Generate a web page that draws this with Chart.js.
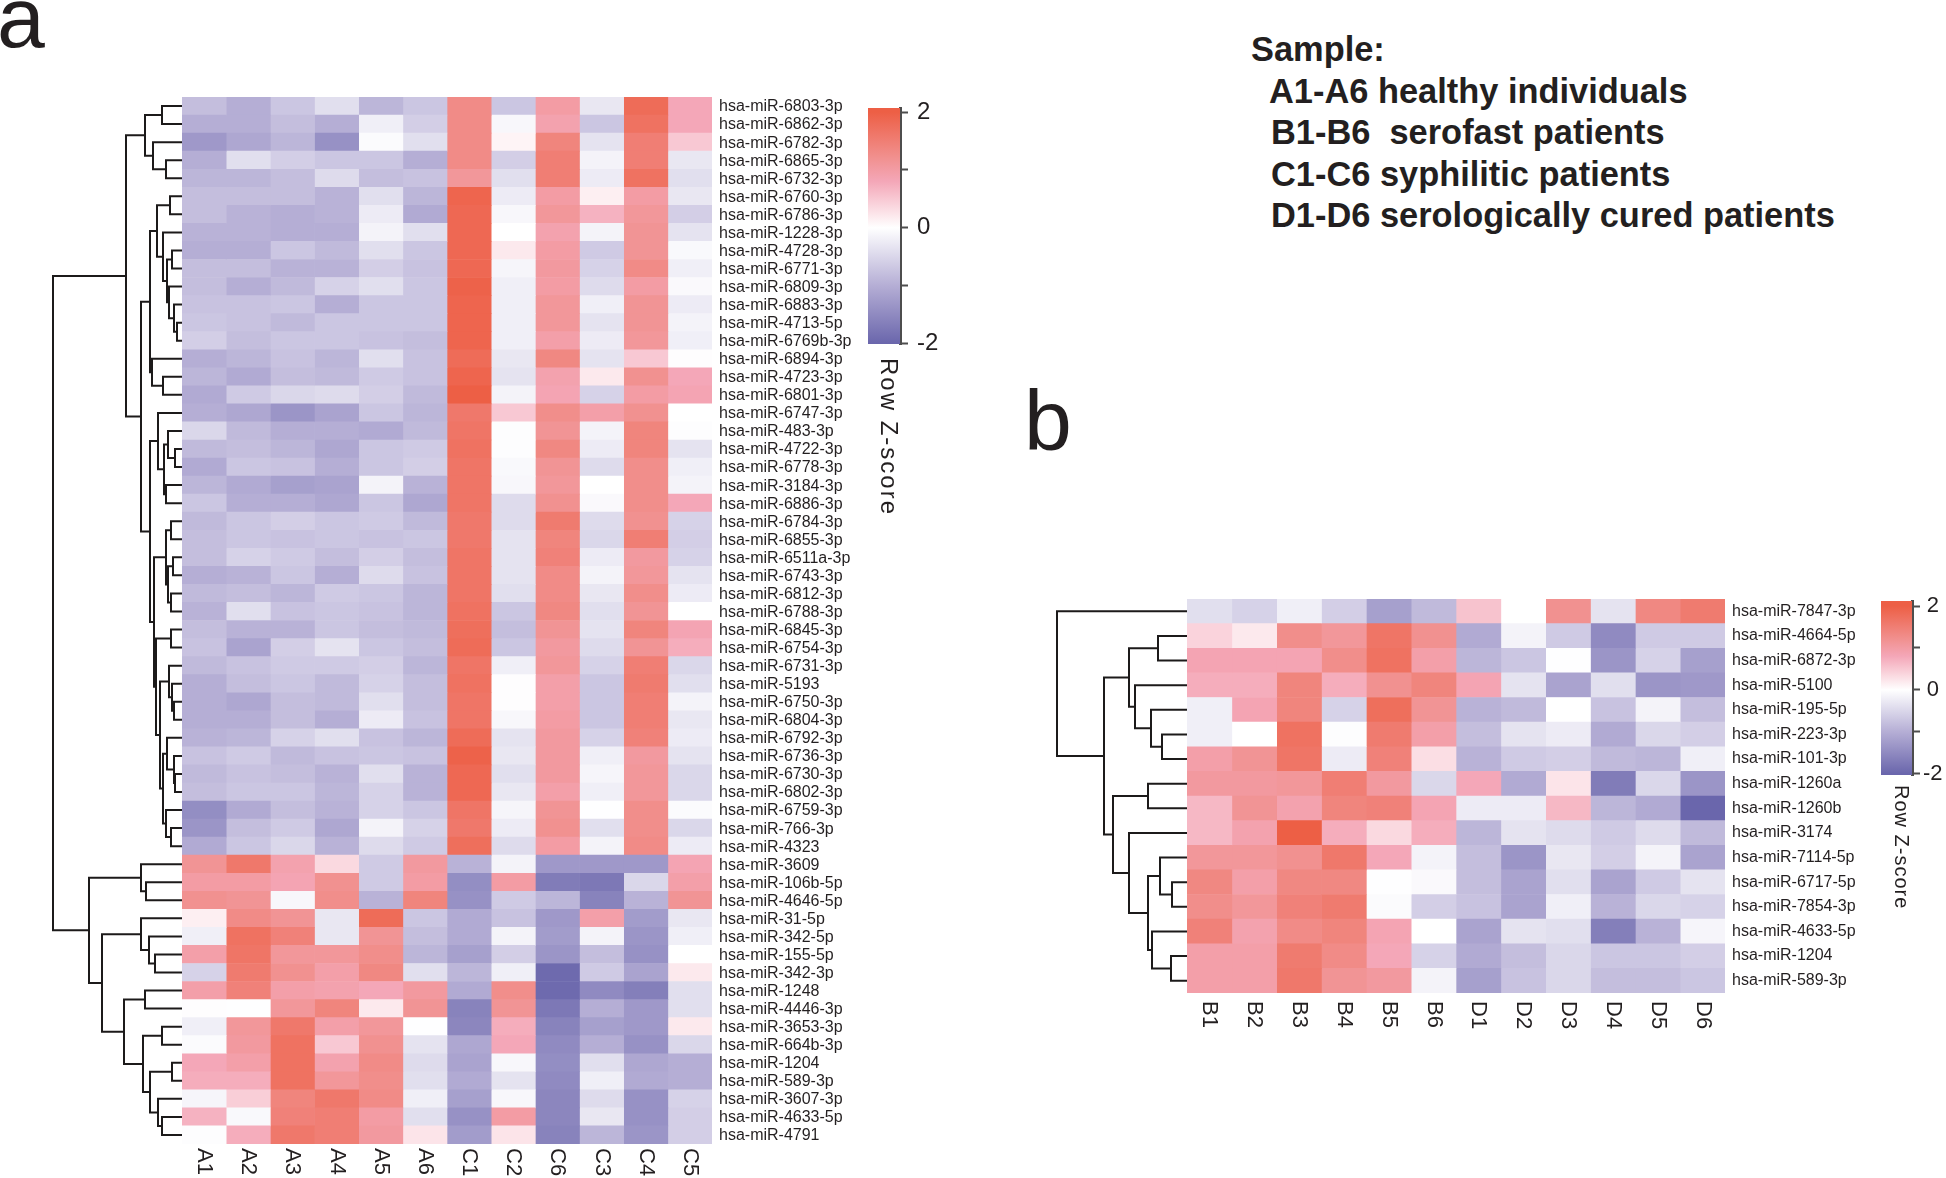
<!DOCTYPE html>
<html>
<head>
<meta charset="utf-8">
<title>Row Z-score heatmaps</title>
<script src="https://cdn.jsdelivr.net/npm/chart.js@4"></script>
<style>
  html, body { margin: 0; background: #fff; }
  #page { position: relative; width: 1946px; height: 1178px; overflow: hidden; font-family: "Liberation Sans", Arial, sans-serif; color: #231f20; }
  #page canvas { position: absolute; }
  .letter { position: absolute; font-size: 86px; line-height: 100px; }
  .note { position: absolute; top: 29px; left: 1251px; font-size: 34.4px; font-weight: bold; line-height: 41.5px; white-space: pre; }
  .note div { padding-left: 20px; }
  .note div:first-child { padding-left: 0; }
</style>
</head>
<body>
<div id="page">
  <div class="letter" style="left:-3px;top:-33px">a</div>
  <div class="letter" style="left:1024px;top:370px">b</div>
  <div class="note"><div>Sample:</div><div style="padding-left:18px">A1-A6 healthy individuals</div><div>B1-B6  serofast patients</div><div>C1-C6 syphilitic patients</div><div>D1-D6 serologically cured patients</div></div>
</div>
<script>
const colsA = ['A1', 'A2', 'A3', 'A4', 'A5', 'A6', 'C1', 'C2', 'C6', 'C3', 'C4', 'C5'];
const rowsA = ['6803-3p', '6862-3p', '6782-3p', '6865-3p', '6732-3p', '6760-3p', '6786-3p', '1228-3p', '4728-3p', '6771-3p',
  '6809-3p', '6883-3p', '4713-5p', '6769b-3p', '6894-3p', '4723-3p', '6801-3p', '6747-3p', '483-3p', '4722-3p',
  '6778-3p', '3184-3p', '6886-3p', '6784-3p', '6855-3p', '6511a-3p', '6743-3p', '6812-3p', '6788-3p', '6845-3p',
  '6754-3p', '6731-3p', '5193', '6750-3p', '6804-3p', '6792-3p', '6736-3p', '6730-3p', '6802-3p', '6759-3p',
  '766-3p', '4323', '3609', '106b-5p', '4646-5p', '31-5p', '342-5p', '155-5p', '342-3p', '1248',
  '4446-3p', '3653-3p', '664b-3p', '1204', '589-3p', '3607-3p', '4633-5p', '4791'].map(r => 'hsa-miR-' + r);

// z-scores, one line per row
const valuesA = [
  [-.8, -1, -.7, -.4, -.9, -.7, 1.3, -.7, 1, -.3, 1.8, .8],
  [-1, -1, -.8, -1, -.2, -.6, 1.3, -.1, .9, -.7, 1.7, .8],
  [-1.3, -1.1, -.9, -1.4, -.05, -.4, 1.3, .1, 1.4, -.35, 1.5, .5],
  [-1, -.4, -.6, -.7, -.7, -1, 1.3, -.6, 1.5, -.15, 1.5, -.3],
  [-.9, -.9, -.8, -.45, -.8, -.75, 1.1, -.4, 1.5, -.25, 1.7, -.4],
  [-.8, -.8, -.8, -.95, -.4, -.9, 1.9, -.25, 1, .15, 1, -.3],
  [-.8, -.95, -1, -.95, -.25, -1.05, 1.85, -.1, 1.1, .7, 1.1, -.6],
  [-.95, -.95, -1, -1, -.15, -.4, 1.85, 0, .9, -.15, 1.15, -.35],
  [-1, -1, -.7, -.85, -.4, -.7, 1.85, .2, 1, -.65, 1.15, -.08],
  [-.8, -.8, -.95, -.95, -.6, -.75, 1.85, -.12, 1.05, -.55, 1.3, -.2],
  [-.8, -1, -.85, -.55, -.4, -.7, 1.95, -.2, 1, -.45, 1, -.07],
  [-.75, -.75, -.7, -1, -.7, -.7, 1.9, -.2, 1.1, -.2, 1.15, -.25],
  [-.7, -.75, -.85, -.7, -.7, -.7, 1.9, -.2, 1.1, -.35, 1.15, -.15],
  [-.6, -.8, -.7, -.7, -.75, -.8, 1.9, -.2, .95, -.25, 1.1, -.2],
  [-1, -.9, -.75, -.9, -.4, -.75, 1.8, -.3, 1.35, -.35, .5, -.02],
  [-.9, -1.05, -.8, -.85, -.65, -.75, 1.9, -.35, .9, .2, 1.2, .8],
  [-1.05, -.65, -.5, -.45, -.6, -.85, 2, -.15, .85, -.55, 1, .85],
  [-1, -1.1, -1.35, -1.15, -.7, -.9, 1.6, .5, 1.25, .95, 1.2, 0],
  [-.5, -.85, -1, -1, -1.05, -.85, 1.65, -.03, 1.15, -.15, 1.4, -.03],
  [-.85, -.8, -.9, -1.1, -.7, -.65, 1.7, -.03, 1.35, -.25, 1.4, -.35],
  [-1.05, -.7, -.75, -1, -.7, -.6, 1.65, -.08, 1.15, -.45, 1.25, -.2],
  [-.9, -1.05, -1.2, -1.15, -.15, -.95, 1.65, -.1, 1.1, 0, 1.25, -.15],
  [-.7, -1, -1, -1.1, -.7, -1.1, 1.65, -.45, 1.2, -.07, 1.25, .8],
  [-.85, -.7, -.6, -.7, -.65, -.85, 1.6, -.45, 1.55, -.45, 1.2, -.55],
  [-.8, -.7, -.75, -.7, -.75, -.7, 1.6, -.35, 1.4, -.5, 1.5, -.6],
  [-.8, -.55, -.65, -.8, -.6, -.8, 1.65, -.35, 1.45, -.25, 1.05, -.55],
  [-1, -.95, -.7, -1, -.45, -.75, 1.65, -.35, 1.3, -.15, 1.1, -.35],
  [-.85, -.8, -.9, -.65, -.7, -.9, 1.65, -.4, 1.3, -.3, 1.25, -.25],
  [-.95, -.4, -.75, -.7, -.75, -.9, 1.7, -.7, 1.35, -.4, 1.15, 0],
  [-.8, -.95, -.95, -.7, -.8, -.85, 1.75, -.8, 1.15, -.35, 1.4, .85],
  [-.75, -1.15, -.6, -.35, -.7, -.8, 1.8, -.7, 1.05, -.45, 1.15, .75],
  [-.85, -.75, -.65, -.65, -.6, -.9, 1.65, -.2, 1.1, -.55, 1.5, -.5],
  [-1, -.8, -.7, -.85, -.55, -.8, 1.7, -.02, .95, -.7, 1.55, -.4],
  [-1, -1.1, -.8, -.85, -.4, -.8, 1.65, -.02, .95, -.7, 1.5, -.15],
  [-1, -1, -.8, -1, -.25, -.75, 1.65, -.1, 1, -.7, 1.5, -.3],
  [-.95, -.9, -.55, -.4, -.75, -.9, 1.8, -.35, 1.05, -.55, 1.45, -.25],
  [-.75, -.65, -.85, -.75, -.7, -.75, 1.95, -.3, 1.05, -.2, 1.05, -.35],
  [-.85, -.75, -.8, -.95, -.4, -.95, 1.85, -.4, 1.05, -.12, 1.1, -.5],
  [-.8, -.7, -.7, -.9, -.55, -.95, 1.85, -.3, .95, -.2, 1.1, -.5],
  [-1.45, -1.05, -.8, -.95, -.55, -.7, 1.65, -.12, 1.15, -.01, 1.25, -.05],
  [-1.35, -.8, -.65, -1.1, -.15, -.55, 1.6, -.25, 1.2, -.4, 1.25, -.5],
  [-1.05, -.7, -.5, -.95, -.45, -.65, 1.75, -.45, 1, -.15, 1.3, -.25],
  [1.15, 1.6, .9, .35, -.65, 1.05, -.95, -.15, -1.3, -1.3, -1.3, .85],
  [1, 1, .85, 1.2, -.65, 1, -1.45, 1, -1.7, -1.75, -.5, .95],
  [1.2, 1.15, -.1, 1.25, -.95, 1.4, -1.4, -.65, -.9, -1.6, -.95, 1.15],
  [.15, 1.3, 1.15, -.3, 1.8, -.7, -1.05, -.75, -1.3, .95, -1.25, -.3],
  [-.2, 1.7, 1.45, -.3, 1.15, -.8, -1.05, -.15, -1.25, -.15, -1.35, -.2],
  [.95, 1.65, 1.1, 1.1, 1.25, -.9, -1.2, -.6, -1.35, -.8, -1.4, 0],
  [-.55, 1.55, 1.2, .95, 1.35, -.4, -.9, -.2, -1.95, -.65, -1.15, .2],
  [.95, 1.45, .95, .9, .8, 1.05, -1.05, 1.25, -1.95, -1.5, -1.65, -.4],
  [-.02, -.01, 1.1, 1.4, .2, 1.15, -1.6, 1.15, -1.75, -1, -1.3, -.4],
  [-.2, 1.1, 1.6, .95, 1.1, -.01, -1.55, .75, -1.6, -1.2, -1.3, .2],
  [-.05, 1.05, 1.7, .5, 1.2, -.35, -1.1, .8, -1.5, -1, -1.4, -.5],
  [.8, .95, 1.7, .9, 1.3, -.45, -1.15, -.1, -1.45, -.4, -1.1, -1],
  [.75, .75, 1.7, 1.1, 1.25, -.4, -1.05, -.35, -1.5, -.2, -1.05, -1],
  [-.12, .45, 1.4, 1.6, 1.3, -.2, -1.2, -.1, -1.55, -.45, -1.4, -.55],
  [.7, -.08, 1.45, 1.5, 1, -.4, -1.4, 1, -1.55, -.3, -1.4, -.6],
  [-.03, .75, 1.6, 1.5, 1.05, .25, -1.25, .25, -1.6, -.9, -1.35, -.6]
];

// merge tables like R's hclust: negative = leaf row (1-based), positive = earlier merge, then the height
const treeA = [
  [-1, -2, 20], [-4, -5, 16], [-3, 2, 29], [1, 3, 37],
  [-6, -7, 12], [-9, -10, 10], [-13, -14, 5], [-12, 7, 8], [-11, 8, 13], [6, 9, 15], [-8, 10, 19], [5, 11, 25],
  [-16, -17, 19], [-15, 13, 30], [12, 14, 32],
  [-20, -21, 7], [-19, 16, 14], [-22, -23, 16], [17, 18, 18], [-18, 19, 24],
  [-24, -25, 11], [-26, -27, 9], [-28, -29, 11], [22, 23, 14], [21, 24, 16],
  [-30, -31, 11], [-34, -35, 8], [-33, 27, 10], [-32, 28, 13],
  [-38, -39, 7], [-37, 30, 8], [-36, 31, 15], [-41, -42, 11], [-40, 33, 16], [32, 34, 19],
  [29, 35, 22], [26, 36, 26], [25, 37, 28], [20, 38, 32], [15, 39, 41], [4, 40, 56],
  [-44, -45, 36], [-43, 42, 41], [-48, -49, 27], [-47, 44, 33], [-46, 45, 41],
  [-50, -51, 37], [-52, -53, 20], [-54, -55, 10], [-57, -58, 20], [-56, 50, 24], [49, 51, 32], [48, 52, 39],
  [47, 53, 58], [46, 54, 80], [43, 55, 93], [41, 56, 129]
];

const colsB = ['B1', 'B2', 'B3', 'B4', 'B5', 'B6', 'D1', 'D2', 'D3', 'D4', 'D5', 'D6'];
const rowsB = ['7847-3p', '4664-5p', '6872-3p', '5100', '195-5p', '223-3p', '101-3p', '1260a', '1260b', '3174',
  '7114-5p', '6717-5p', '7854-3p', '4633-5p', '1204', '589-3p'].map(r => 'hsa-miR-' + r);
const valuesB = [
  [-.4, -.55, -.2, -.6, -1.2, -.85, .55, 0, 1.2, -.35, 1.35, 1.55],
  [.4, .2, 1.25, 1.1, 1.65, 1.2, -1.05, -.15, -.65, -1.5, -.65, -.65],
  [.85, .85, .85, 1.25, 1.7, .95, -.9, -.7, -.01, -1.35, -.55, -1.2],
  [.75, .75, 1.4, .75, 1.2, 1.4, .85, -.35, -1.15, -.4, -1.35, -1.3],
  [-.2, .85, 1.4, -.55, 1.75, 1.15, -.95, -.85, 0, -.75, -.15, -.8],
  [-.2, 0, 1.7, -.03, 1.55, .95, -.8, -.35, -.25, -1.05, -.5, -.6],
  [.95, 1.15, 1.65, -.25, 1.45, .3, -.95, -.65, -.6, -.85, -.9, -.2],
  [1.05, 1.05, 1.1, 1.5, 1.05, -.5, .8, -1.05, .25, -1.7, -.5, -1.35],
  [.65, 1.15, .9, 1.4, 1.45, .85, -.25, -.25, .65, -.9, -1.05, -2],
  [.65, .9, 2, .75, .35, .75, -.9, -.35, -.45, -.65, -.45, -.85],
  [1.1, 1.1, 1.2, 1.6, .8, -.15, -.8, -1.35, -.3, -.6, -.15, -1.15],
  [1.35, .95, 1.35, 1.35, -.01, -.07, -.8, -1.15, -.4, -1.15, -.65, -.35],
  [1.25, 1.1, 1.45, 1.55, -.05, -.6, -.75, -1.15, -.2, -.95, -.5, -.55],
  [1.45, .9, 1.3, 1.4, .85, 0, -1.15, -.35, -.4, -1.65, -.95, -.12],
  [.95, .95, 1.55, 1.3, .8, -.55, -1.05, -.8, -.5, -.7, -.7, -.6],
  [.95, .95, 1.6, 1.15, 1.05, -.15, -1.2, -.75, -.5, -.8, -.8, -.7]
];
const treeB = [
  [-2, -3, 29], [-6, -7, 25], [-5, 2, 36], [-4, 3, 52], [1, 4, 58], [-8, -9, 39],
  [-12, -13, 15], [-11, 7, 27], [-15, -16, 16], [-14, 9, 35], [8, 10, 39], [-10, 11, 58],
  [6, 12, 74], [5, 13, 83], [-1, 14, 130]
];

const scaleTicks = [2, 1, 0, -1, -2];
const scaleLabels = ['2', '', '0', '', '-2'];
const stopZ = [-2, -1, 0, 0.8, 1.2, 2];
const stopColor = [[106, 102, 172], [181, 174, 213], [255, 255, 255], [244, 167, 184], [241, 145, 144], [237, 95, 69]];

const FONT = '"Liberation Sans", Arial, sans-serif';
const INK = '#231f20';

Chart.defaults.animation = false;
Chart.defaults.responsive = false;
Chart.defaults.plugins.legend.display = false;
Chart.defaults.plugins.tooltip.enabled = false;

function addCanvas(left, top, width, height) {
  const c = document.createElement('canvas');
  c.width = width;
  c.height = height;
  c.style.left = left + 'px';
  c.style.top = top + 'px';
  document.getElementById('page').appendChild(c);
  return c;
}

function zColor(z) {
  let i = 0;
  while (i < stopZ.length - 2 && z > stopZ[i + 1]) i++;
  const t = Math.min(1, Math.max(0, (z - stopZ[i]) / (stopZ[i + 1] - stopZ[i])));
  const rgb = stopColor[i].map((v, k) => Math.round(v + (stopColor[i + 1][k] - v) * t));
  return `rgb(${rgb.join(',')})`;
}

// column names read top to bottom under the cells
function columnLabels(cols, fontSize, gap) {
  return {
    id: 'columnLabels',
    afterDraw(chart) {
      const { ctx, chartArea, scales } = chart;
      ctx.save();
      ctx.font = `${fontSize}px ${FONT}`;
      ctx.fillStyle = INK;
      ctx.textAlign = 'left';
      ctx.textBaseline = 'middle';
      cols.forEach((name, i) => {
        ctx.save();
        ctx.translate(scales.x.getPixelForValue(i + 0.5), chartArea.bottom + gap);
        ctx.rotate(Math.PI / 2);
        ctx.fillText(name, 0, 0);
        ctx.restore();
      });
      ctx.restore();
    }
  };
}

function heatmap(box, cols, rows, values, labelWidth, bottomSpace, rowFont, colFont, colGap, labelShift) {
  const canvas = addCanvas(box.left, box.top, box.width + labelWidth, box.height + bottomSpace);
  return new Chart(canvas, {
    type: 'bar',
    data: {
      labels: rows,
      datasets: cols.map((name, c) => ({
        label: name,
        data: rows.map(() => [c, c + 1]),
        backgroundColor: values.map(row => zColor(row[c])),
        borderWidth: 0,
        barPercentage: 1,
        categoryPercentage: 1
      }))
    },
    options: {
      indexAxis: 'y',
      layout: { padding: { bottom: bottomSpace } },
      scales: {
        x: { display: false, min: 0, max: cols.length },
        y: {
          position: 'right',
          stacked: true,
          afterFit: scale => {
            scale.width = labelWidth;
            scale.paddingTop = 0;
            scale.paddingBottom = 0;
          },
          grid: { display: false, drawTicks: false },
          border: { display: false },
          ticks: { autoSkip: false, padding: 7, labelOffset: labelShift, color: INK, font: { family: FONT, size: rowFont } }
        }
      }
    },
    plugins: [columnLabels(cols, colFont, colGap)]
  });
}

// flatten a merge table into one polyline, NaN breaks between the merges
function treePoints(tree) {
  const nodes = [];
  const pos = id => (id < 0 ? { h: 0, y: -id - 0.5 } : nodes[id - 1]);
  const points = [];
  tree.forEach(([a, b, h]) => {
    const pa = pos(a);
    const pb = pos(b);
    points.push({ x: pa.h, y: pa.y }, { x: h, y: pa.y }, { x: h, y: pb.y }, { x: pb.h, y: pb.y }, { x: NaN, y: NaN });
    nodes.push({ h, y: (pa.y + pb.y) / 2 });
  });
  return points;
}

function dendrogram(box, tree, rowCount) {
  const canvas = addCanvas(box.left, box.top, box.width, box.height);
  return new Chart(canvas, {
    type: 'scatter',
    data: {
      datasets: [{
        data: treePoints(tree),
        showLine: true,
        spanGaps: false,
        pointRadius: 0,
        borderColor: '#1c1a1a',
        borderWidth: 2,
        clip: false
      }]
    },
    options: {
      scales: {
        x: { display: false, reverse: true, min: 0, max: box.width },
        y: { display: false, reverse: true, min: 0, max: rowCount }
      }
    }
  });
}

function colorBar(box, barWidth, padTop, barHeight, zRange, tickFont, tickOpts, title) {
  const canvas = addCanvas(box.left, box.top, box.width, box.height);
  return new Chart(canvas, {
    type: 'bar',
    data: {
      labels: ['Row Z-score'],
      datasets: [{
        data: [zRange],
        barPercentage: 1,
        categoryPercentage: 1,
        borderWidth: 0,
        backgroundColor(c) {
          const y = c.chart.scales.y;
          if (!c.chart.chartArea || !y) return '#fff';
          const y0 = y.getPixelForValue(stopZ[0]);
          const y1 = y.getPixelForValue(stopZ[stopZ.length - 1]);
          const g = c.chart.ctx.createLinearGradient(0, y0, 0, y1);
          stopZ.forEach(z => g.addColorStop((z - stopZ[0]) / (stopZ[stopZ.length - 1] - stopZ[0]), zColor(z)));
          return g;
        }
      }]
    },
    options: {
      layout: { padding: { top: padTop, bottom: box.height - padTop - barHeight } },
      scales: {
        x: { display: false },
        y: {
          position: 'right',
          min: zRange[0],
          max: zRange[1],
          afterFit: scale => {
            scale.width = box.width - barWidth;
            scale.paddingTop = 0;
            scale.paddingBottom = 0;
          },
          afterBuildTicks: scale => { scale.ticks = scaleTicks.map(v => ({ value: v })); },
          grid: { drawOnChartArea: false, tickLength: 8, tickWidth: 2, tickColor: '#4d4d4d' },
          border: { color: '#4d4d4d', width: 3 },
          ticks: {
            color: INK,
            font: { family: FONT, size: tickFont },
            padding: tickOpts.padding,
            crossAlign: tickOpts.crossAlign,
            callback: v => scaleLabels[scaleTicks.indexOf(v)]
          }
        }
      }
    },
    plugins: [{
      id: 'barTitle',
      afterDraw(chart) {
        const { ctx, chartArea } = chart;
        ctx.save();
        ctx.translate((chartArea.left + chartArea.right) / 2 + title.dx, chartArea.bottom + title.gap);
        ctx.rotate(Math.PI / 2);
        ctx.font = `${title.size}px ${FONT}`;
        ctx.letterSpacing = title.spacing + 'px';
        ctx.fillStyle = INK;
        ctx.textAlign = 'left';
        ctx.textBaseline = 'middle';
        ctx.fillText('Row Z-score', 0, 0);
        ctx.restore();
      }
    }]
  });
}

heatmap({ left: 182, top: 97, width: 530, height: 1047 }, colsA, rowsA, valuesA, 150, 34, 16, 22, 4, 1);
dendrogram({ left: 42, top: 97, width: 140, height: 1047 }, treeA, rowsA.length);
colorBar({ left: 868, top: 98, width: 80, height: 440 }, 32, 10, 236, [-2.01, 2.07], 24, { padding: 9, crossAlign: 'near' },
  { dx: 4, gap: 14, size: 24, spacing: 2 });

heatmap({ left: 1187, top: 599, width: 538, height: 394 }, colsB, rowsB, valuesB, 145, 40, 16, 22, 8, 0);
dendrogram({ left: 1047, top: 599, width: 140, height: 394 }, treeB, rowsB.length);
colorBar({ left: 1881, top: 591, width: 65, height: 340 }, 31, 10, 174, [-2.03, 2.12], 22, { padding: 3, crossAlign: 'center' },
  { dx: 4, gap: 10, size: 20, spacing: 1 });
</script>
</body>
</html>
